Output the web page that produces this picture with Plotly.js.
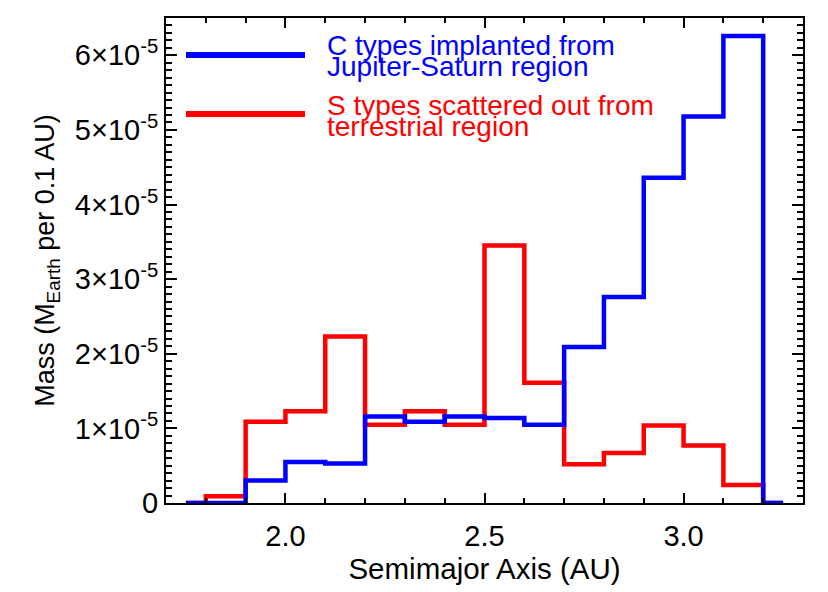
<!DOCTYPE html>
<html>
<head>
<meta charset="utf-8">
<script src="https://cdn.plot.ly/plotly-3.0.1.min.js"></script>
<style>html,body{margin:0;padding:0;background:#fff;}#chart{width:828px;height:592px;}</style>
</head>
<body>
<div id="chart"></div>
<script>
// Bin centres (AU), histogram drawn in step mode; end points are the zero edges
const semimajor = [1.75, 1.85, 1.95, 2.05, 2.15, 2.25, 2.35, 2.45, 2.55, 2.65, 2.75, 2.85, 2.95, 3.05, 3.15, 3.25];
// C types implanted from Jupiter-Saturn region (M_Earth per 0.1 AU)
const cTypesMass = [0, 0, 0.30e-5, 0.55e-5, 0.53e-5, 1.16e-5, 1.09e-5, 1.16e-5, 1.14e-5, 1.05e-5, 2.09e-5, 2.76e-5, 4.36e-5, 5.18e-5, 6.26e-5, 0];
// S types scattered out from terrestrial region
const sTypesMass = [0, 0.09e-5, 1.09e-5, 1.23e-5, 2.23e-5, 1.05e-5, 1.23e-5, 1.05e-5, 3.45e-5, 1.61e-5, 0.52e-5, 0.67e-5, 1.04e-5, 0.77e-5, 0.24e-5, 0];

const seriesNames = ["C types implanted from", "Jupiter-Saturn region", "S types scattered out from", "terrestrial region"];
const yTickVals = [0, 1e-5, 2e-5, 3e-5, 4e-5, 5e-5, 6e-5];
const yTickText = ["0", "1×10<sup>-5</sup>", "2×10<sup>-5</sup>", "3×10<sup>-5</sup>", "4×10<sup>-5</sup>", "5×10<sup>-5</sup>", "6×10<sup>-5</sup>"];

const BLUE = "#0000ff", RED = "#ff0000";
const FONT = "Liberation Sans, Arial, Helvetica, sans-serif";

const traces = [
  {x: semimajor, y: sTypesMass, type: "scatter", mode: "lines",
   line: {shape: "hvh", color: RED, width: 4.5}, name: seriesNames[2] + " " + seriesNames[3], showlegend: false, hoverinfo: "skip"},
  {x: semimajor, y: cTypesMass, type: "scatter", mode: "lines",
   line: {shape: "hvh", color: BLUE, width: 4.5}, name: seriesNames[0] + " " + seriesNames[1], showlegend: false, hoverinfo: "skip"}
];

const axisCommon = {
  showline: true, linecolor: "black", linewidth: 2, mirror: "ticks",
  ticks: "inside", tickcolor: "black", tickwidth: 2,
  showgrid: false, zeroline: false,
  tickfont: {family: FONT, size: 29, color: "black"}
};

const layout = {
  width: 828, height: 592,
  margin: {l: 166, r: 25, t: 18, b: 89},
  paper_bgcolor: "white", plot_bgcolor: "white",
  showlegend: false,
  font: {family: FONT, color: "black"},
  xaxis: Object.assign({}, axisCommon, {
    range: [1.7, 3.3], tickmode: "linear", tick0: 2.0, dtick: 0.5, tickformat: ".1f",
    ticklen: 10, ticklabelstandoff: 6,
    minor: {tickmode: "linear", tick0: 1.7, dtick: 0.1, ticks: "inside", ticklen: 5, tickwidth: 2, tickcolor: "black", showgrid: false},
    title: {text: "Semimajor Axis (AU)", font: {family: FONT, size: 29.5, color: "black"}, standoff: 2}
  }),
  yaxis: Object.assign({}, axisCommon, {
    range: [0, 6.5e-5], tickmode: "array", tickvals: yTickVals, ticktext: yTickText,
    ticklen: 11, ticklabelstandoff: 0,
    minor: {tickmode: "linear", tick0: 0, dtick: 1e-6, ticks: "inside", ticklen: 6, tickwidth: 2, tickcolor: "black", showgrid: false},
    title: {text: "Mass (M<sub>Earth</sub> per 0.1 AU)", font: {family: FONT, size: 27, color: "black"}, standoff: 12}
  }),
  shapes: [
    {type: "line", xref: "paper", yref: "paper", x0: 0.0314, x1: 0.2182, y0: 0.9237, y1: 0.9237, line: {color: BLUE, width: 6}},
    {type: "line", xref: "paper", yref: "paper", x0: 0.0314, x1: 0.2182, y0: 0.8021, y1: 0.8021, line: {color: RED, width: 6}}
  ],
  annotations: [
    {xref: "paper", yref: "paper", x: 0.249, y: 0.9443, xanchor: "left", yanchor: "middle", showarrow: false, text: seriesNames[0], font: {family: FONT, size: 28, color: BLUE}},
    {xref: "paper", yref: "paper", x: 0.249, y: 0.8990, xanchor: "left", yanchor: "middle", showarrow: false, text: seriesNames[1], font: {family: FONT, size: 28, color: BLUE}},
    {xref: "paper", yref: "paper", x: 0.249, y: 0.8206, xanchor: "left", yanchor: "middle", showarrow: false, text: seriesNames[2], font: {family: FONT, size: 28, color: RED}},
    {xref: "paper", yref: "paper", x: 0.249, y: 0.7753, xanchor: "left", yanchor: "middle", showarrow: false, text: seriesNames[3], font: {family: FONT, size: 28, color: RED}}
  ]
};

Plotly.newPlot("chart", traces, layout, {displayModeBar: false, staticPlot: true});
</script>
</body>
</html>
